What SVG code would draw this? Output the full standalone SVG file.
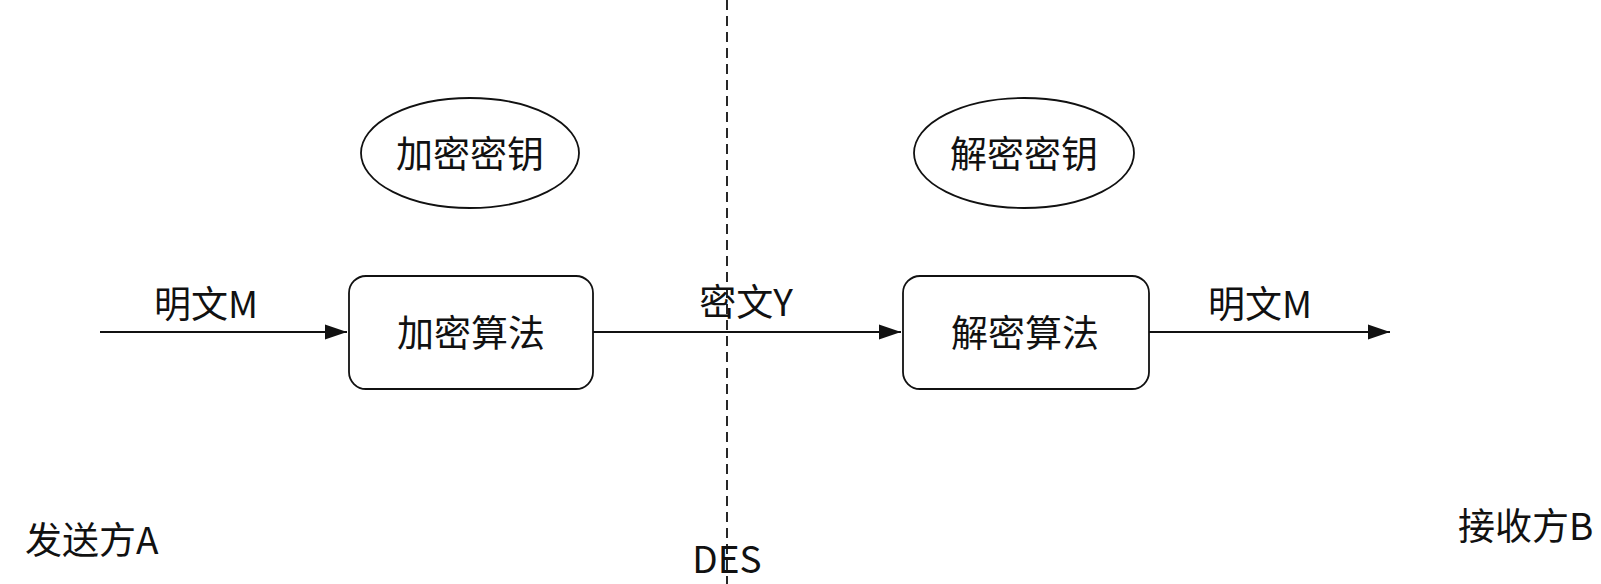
<svg xmlns="http://www.w3.org/2000/svg" width="1601" height="584" viewBox="0 0 1601 584">
<defs>
<marker id="arr" markerUnits="userSpaceOnUse" markerWidth="24" markerHeight="18" refX="22" refY="9" orient="auto">
<path d="M0,1.5 L22,9 L0,16.5 Z" fill="#111"/>
</marker>
</defs>
<style>
text{font-family:"Noto Sans CJK SC","Noto Sans",sans-serif;font-size:37px;fill:#111;}
.c{text-anchor:middle;}
.n{fill:#fff;stroke:#111;stroke-width:1.8;}
.e{stroke:#111;stroke-width:1.8;fill:none;}
</style>
<rect width="1601" height="584" fill="#fff"/>
<g id="divider">
<line x1="727" y1="0" x2="727" y2="584" stroke="#111" stroke-width="1.8" stroke-dasharray="10,6"/>
</g>
<g id="connectors">
<line class="e" x1="100" y1="332" x2="347" y2="332" marker-end="url(#arr)"/>
<line class="e" x1="593" y1="332" x2="901" y2="332" marker-end="url(#arr)"/>
<line class="e" x1="1149" y1="332" x2="1390" y2="332" marker-end="url(#arr)"/>
<text x="206" y="318" class="c">明文M</text>
<text x="746" y="316" class="c">密文Y</text>
<text x="1260" y="318" class="c">明文M</text>
</g>
<g id="enc-key">
<ellipse class="n" cx="470" cy="153" rx="109" ry="55"/>
<text x="470" y="168" class="c">加密密钥</text>
</g>
<g id="dec-key">
<ellipse class="n" cx="1024" cy="153" rx="110" ry="55"/>
<text x="1024" y="168" class="c">解密密钥</text>
</g>
<g id="enc-alg">
<rect class="n" x="349" y="276" width="244" height="113" rx="17"/>
<text x="471" y="347" class="c">加密算法</text>
</g>
<g id="dec-alg">
<rect class="n" x="903" y="276" width="246" height="113" rx="17"/>
<text x="1025" y="347" class="c">解密算法</text>
</g>
<g id="labels">
<text x="25" y="554">发送方A</text>
<text x="727" y="573" class="c">DES</text>
<text x="1458" y="540">接收方B</text>
</g>
</svg>
